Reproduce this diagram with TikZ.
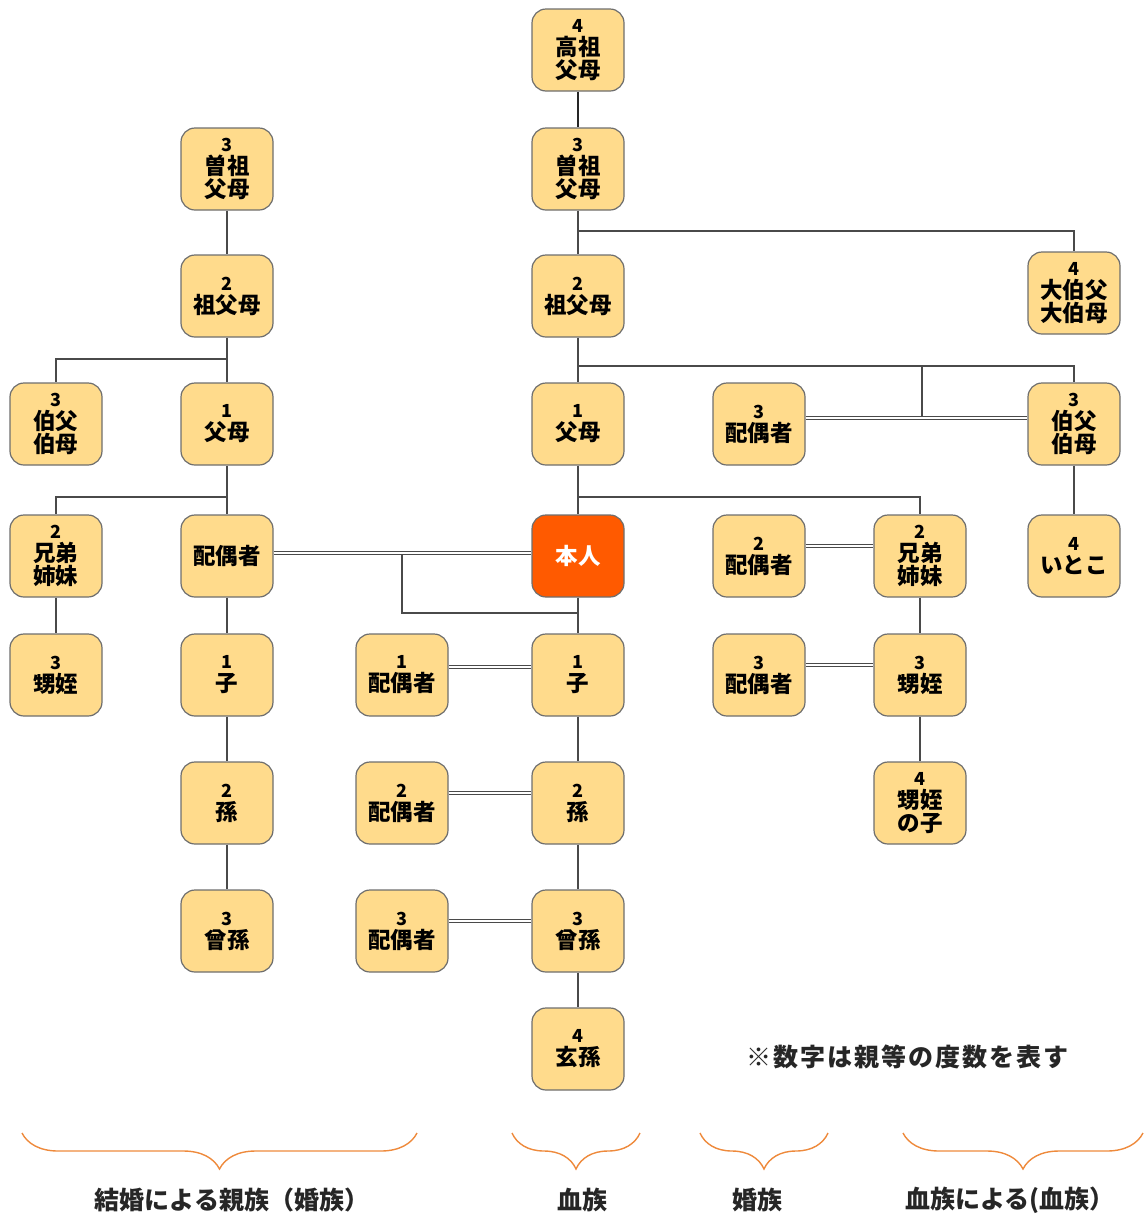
\documentclass[tikz,border=0pt]{standalone}
\usepackage{fontspec}
\setmainfont{Noto Sans CJK JP}
\usetikzlibrary{decorations.pathreplacing}
\definecolor{boxfill}{HTML}{FFDB8C}
\definecolor{boxline}{HTML}{6E6E6E}
\definecolor{mefill}{HTML}{FF5A00}
\definecolor{linec}{HTML}{4A4A4A}
\definecolor{bracec}{HTML}{EE8A3C}
\newcommand\dg[1]{{\fontsize{18}{24}\selectfont #1}}
\begin{document}
\begin{tikzpicture}[x=1pt,y=-1pt,
  box/.style={draw=boxline, line width=1.2pt, fill=boxfill, rounded corners=14pt,
    minimum width=92pt, minimum height=82pt, inner sep=0pt, align=center,
    font=\bfseries\fontsize{22.5}{23}\selectfont},
  mebox/.style={box, fill=mefill, text=white},
  link/.style={draw=linec, line width=1.1pt},
  thicklink/.style={draw=black!85, line width=2.6pt},
  dbl/.style={draw=linec, line width=0.9pt, double=white, double distance=2.6pt},
  bracestyle/.style={draw=bracec, line width=1.4pt, decorate, decoration={brace, amplitude=36pt}},
  lbl/.style={font=\bfseries\fontsize{25}{27}\selectfont, text=black!85}
]
\useasboundingbox (0,0) rectangle (1145,1216);

% center column
\node[box] (k4) at (578,50) {\dg{4}\\高祖\\父母};
\node[box] (c3) at (578,169) {\dg{3}\\曽祖\\父母};
\node[box] (c2) at (578,296) {\dg{2}\\祖父母};
\node[box] (c1) at (578,424) {\dg{1}\\父母};
\node[mebox] (me) at (578,556) {本人};
\node[box] (ch1) at (578,675) {\dg{1}\\子};
\node[box] (ch2) at (578,803) {\dg{2}\\孫};
\node[box] (ch3) at (578,931) {\dg{3}\\曾孫};
\node[box] (ch4) at (578,1049) {\dg{4}\\玄孫};

% left
\node[box] (L3) at (227,169) {\dg{3}\\曽祖\\父母};
\node[box] (L2) at (227,296) {\dg{2}\\祖父母};
\node[box] (L1) at (227,424) {\dg{1}\\父母};
\node[box] (Lsp) at (227,556) {配偶者};
\node[box] (Lc1) at (227,675) {\dg{1}\\子};
\node[box] (Lc2) at (227,803) {\dg{2}\\孫};
\node[box] (Lc3) at (227,931) {\dg{3}\\曾孫};
\node[box] (Lu) at (56,424) {\dg{3}\\伯父\\伯母};
\node[box] (Ls) at (56,556) {\dg{2}\\兄弟\\姉妹};
\node[box] (Ln) at (56,675) {\dg{3}\\甥姪};

% spouses of descendants
\node[box] (sp1) at (402,675) {\dg{1}\\配偶者};
\node[box] (sp2) at (402,803) {\dg{2}\\配偶者};
\node[box] (sp3) at (402,931) {\dg{3}\\配偶者};

% right
\node[box] (oo) at (1074,293) {\dg{4}\\大伯父\\大伯母};
\node[box] (uS) at (759,424) {\dg{3}\\配偶者};
\node[box] (u) at (1074,424) {\dg{3}\\伯父\\伯母};
\node[box] (cz) at (1074,556) {\dg{4}\\いとこ};
\node[box] (sbS) at (759,556) {\dg{2}\\配偶者};
\node[box] (sb) at (920,556) {\dg{2}\\兄弟\\姉妹};
\node[box] (nS) at (759,675) {\dg{3}\\配偶者};
\node[box] (n) at (920,675) {\dg{3}\\甥姪};
\node[box] (nc) at (920,803) {\dg{4}\\甥姪\\の子};

% junction coordinates
\coordinate (j1) at (578,231);
\coordinate (j2) at (578,366);
\coordinate (j2b) at (922,366);
\coordinate (m1) at (922,416);
\coordinate (jL2) at (227,359);
\coordinate (jL1) at (227,497);
\coordinate (jc1) at (578,497);
\coordinate (m0) at (402,555);
\coordinate (j0) at (578,613);

% connectors
\draw[thicklink] (k4) -- (c3);
\draw[link] (c3) -- (c2);
\draw[link] (j1) -| (oo.north);
\draw[link] (c2) -- (c1);
\draw[link] (j2) -| (u.north);
\draw[link] (j2b) -- (m1);
\draw[dbl] ([yshift=6pt]uS.east) -- ([yshift=6pt]u.west);
\draw[link] (c1) -- (me);
\draw[link] (jc1) -| (sb.north);
\draw[link] (u) -- (cz);
\draw[dbl] ([yshift=10pt]sbS.east) -- ([yshift=10pt]sb.west);
\draw[link] (sb) -- (n);
\draw[dbl] ([yshift=10pt]nS.east) -- ([yshift=10pt]n.west);
\draw[link] (n) -- (nc);
\draw[link] (me) -- (ch1);
\draw[link] (ch1) -- (ch2);
\draw[link] (ch2) -- (ch3);
\draw[link] (ch3) -- (ch4);
\draw[dbl] ([yshift=8pt]sp1.east) -- ([yshift=8pt]ch1.west);
\draw[dbl] ([yshift=10pt]sp2.east) -- ([yshift=10pt]ch2.west);
\draw[dbl] ([yshift=10pt]sp3.east) -- ([yshift=10pt]ch3.west);
\draw[dbl] ([yshift=3pt]Lsp.east) -- ([yshift=3pt]me.west);
\draw[link] (m0) |- (j0);

\draw[link] (L3) -- (L2);
\draw[link] (L2) -- (L1);
\draw[link] (jL2) -| (Lu.north);
\draw[link] (L1) -- (Lsp);
\draw[link] (jL1) -| (Ls.north);
\draw[link] (Ls) -- (Ln);
\draw[link] (Lsp) -- (Lc1);
\draw[link] (Lc1) -- (Lc2);
\draw[link] (Lc2) -- (Lc3);

% note
\node[font=\bfseries\fontsize{25}{27}\selectfont\addfontfeatures{LetterSpace=8}, text=black!85] (note) at (907,1057) {※数字は親等の度数を表す};

% braces
\coordinate (b1s) at (22,1133);  \coordinate (b1e) at (417,1133);
\coordinate (b2s) at (512,1133); \coordinate (b2e) at (640,1133);
\coordinate (b3s) at (700,1133); \coordinate (b3e) at (828,1133);
\coordinate (b4s) at (903,1133); \coordinate (b4e) at (1143,1133);
\draw[bracestyle] (b1e) -- (b1s);
\draw[bracestyle] (b2e) -- (b2s);
\draw[bracestyle] (b3e) -- (b3s);
\draw[bracestyle] (b4e) -- (b4s);

\node[lbl] (t1) at (232,1200) {結婚による親族（婚族）};
\node[lbl] (t2) at (582,1200) {血族};
\node[lbl] (t3) at (757,1200) {婚族};
\node[lbl] (t4) at (1010,1200) {血族による(血族）};
\end{tikzpicture}
\end{document}
